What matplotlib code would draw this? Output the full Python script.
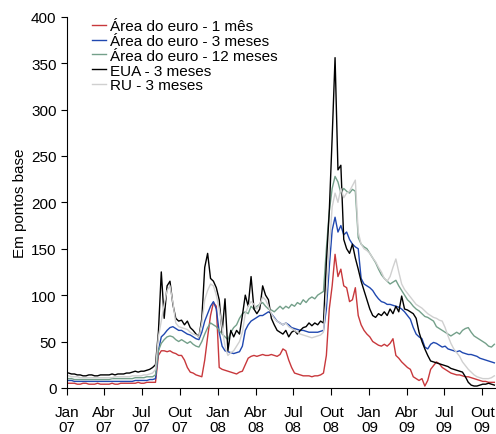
import matplotlib
matplotlib.use("Agg")
import matplotlib.pyplot as plt
import pandas as pd

plt.rcParams['font.family'] = ['Liberation Sans', 'DejaVu Sans']

# weekly observations, Jan 2007 - Oct 2009 (basis points)
weeks = pd.date_range('2007-01-05', periods=148, freq='W-FRI')

area_1m = [5, 5, 5, 4, 4, 5, 5, 4, 4, 4, 5, 4, 4, 4, 4, 5, 4, 4, 5, 5, 5,
           5, 5, 5, 6, 5, 5, 6, 6, 6,
           6, 35, 40, 40, 39, 40, 38, 37, 35, 35, 30, 22, 17, 16, 14, 13, 12, 30,
           55, 78, 92, 88,
           22, 20, 19, 18, 17, 16, 15, 17, 18, 25, 32, 34, 35, 34, 35, 36, 35,
           35, 36, 35, 34, 36, 42, 40, 30, 22, 16, 15, 14, 13, 13, 13, 12, 13, 13,
           14, 16, 35, 85, 110, 144, 120, 128, 110, 108, 93, 95, 108, 78, 68, 62, 58,
           55, 50, 48, 46, 45, 47, 45, 48, 53, 35, 32, 28, 25, 22, 20, 12, 10,
           8, 10, 2, 8, 20, 24, 28, 26, 22, 20, 18, 16, 15, 14, 14, 13, 12, 12,
           11, 10, 9, 8, 7, 7, 6, 6, 6]

area_3m = [8, 8, 7, 7, 7, 7, 7, 7, 7, 7, 7, 7, 7, 7, 7, 7, 7, 7, 7, 7, 7,
           7, 7, 8, 8, 8, 8, 8, 9, 9,
           10, 40, 55, 58, 62, 65, 66, 64, 62, 62, 60, 58, 57, 55, 53, 52, 60, 72,
           80, 88, 93, 85,
           60, 45, 40, 39, 38, 37, 38, 39, 45, 62, 68, 72, 74, 76, 78, 78, 80,
           82, 80, 76, 72, 70, 68, 70, 68, 65, 64, 63, 62, 62, 61, 60, 60, 60, 60,
           61, 62, 85, 130, 170, 184, 168, 175, 165, 168, 160, 155, 152, 150, 118, 112, 110,
           108, 105, 100, 96, 93, 92, 90, 90, 89, 88, 87, 85, 82, 78, 74, 65, 58,
           55, 53, 44, 42, 47, 49, 48, 46, 44, 45, 42, 41, 40, 39, 40, 38, 37, 36,
           36, 35, 34, 32, 31, 30, 29, 28, 27]

area_12m = [10, 10, 9, 9, 9, 9, 9, 9, 9, 9, 9, 9, 9, 9, 9, 10, 10, 10, 10, 10, 10,
            10, 10, 11, 11, 11, 11, 12, 12, 12,
            14, 40, 48, 52, 55, 56, 55, 52, 50, 52, 50, 48, 50, 47, 45, 44, 50, 58,
            65, 70, 68, 66,
            62, 58, 55, 52, 60, 65, 68, 75, 80, 82, 80, 88, 85, 88, 90, 92, 88,
            85, 84, 82, 85, 88, 85, 88, 86, 90, 88, 92, 90, 95, 92, 96, 98, 96, 100,
            102, 104, 150, 190, 215, 228, 222, 210, 215, 212, 210, 214, 212, 162, 155, 152, 150,
            145, 140, 135, 128, 122, 118, 115, 112, 114, 116, 110, 105, 100, 95, 92, 88, 85,
            83, 80, 77, 76, 74, 72, 66, 64, 62, 60, 58, 56, 58, 60, 58, 62, 64, 65,
            60, 56, 54, 52, 50, 48, 45, 44, 47]

eua_3m = [16, 15, 15, 14, 14, 13, 13, 14, 14, 13, 13, 14, 14, 14, 14, 15, 14, 15, 15, 15, 16,
          16, 17, 18, 17, 18, 18, 19, 20, 22,
          25, 60, 125, 75, 110, 115, 90, 75, 72, 73, 68, 72, 65, 62, 58, 55, 75, 130,
          145, 118, 115, 108,
          95, 60, 96, 40, 62, 55, 62, 58, 78, 100, 88, 120, 85, 80, 85, 110, 100,
          95, 75, 68, 62, 60, 58, 62, 55, 60, 62, 58, 62, 65, 66, 70, 67, 70, 68,
          72, 70, 135, 190, 270, 356, 235, 240, 160, 150, 145, 155, 140, 128, 115, 105, 95,
          85, 78, 76, 80, 78, 82, 78, 85, 80, 88, 82, 99, 85, 84, 82, 80, 75,
          60, 50, 42, 35, 29, 28, 27, 26, 25, 24, 23, 21, 20, 19, 18, 17, 12, 6,
          3, 2, 2, 3, 4, 4, 5, 4, 3]

ru_3m = [13, 12, 12, 12, 11, 11, 11, 11, 11, 11, 11, 11, 11, 11, 11, 11, 12, 12, 12, 12, 12,
         12, 13, 13, 13, 13, 14, 14, 15, 16,
         20, 55, 72, 90, 105, 110, 92, 70, 66, 65, 64, 63, 60, 58, 57, 55, 70, 95,
         105, 112, 110, 100,
         85, 65, 45, 35, 38, 40, 45, 50, 60, 80, 88, 93, 90, 85, 90, 98, 95,
         88, 80, 75, 72, 70, 68, 70, 66, 64, 62, 60, 58, 57, 56, 55, 54, 55, 56,
         57, 60, 100, 150, 195, 210, 200, 215, 205, 210, 212, 218, 224, 168, 155, 150, 148,
         145, 140, 136, 130, 125, 118, 115, 120, 130, 139, 125, 112, 106, 102, 98, 94, 90,
         88, 86, 83, 80, 78, 76, 75, 73, 72, 65, 56, 48, 42, 38, 34, 28, 24, 20,
         17, 14, 12, 11, 10, 10, 10, 11, 13]

series = [
    (area_1m, '#c8383c', 'Área do euro - 1 mês'),
    (area_3m, '#2048b0', 'Área do euro - 3 meses'),
    (area_12m, '#74a08a', 'Área do euro - 12 meses'),
    (eua_3m, '#000000', 'EUA - 3 meses'),
    (ru_3m, '#d0d0d0', 'RU - 3 meses'),
]

tick_dates = pd.to_datetime(['2007-01-01', '2007-04-01', '2007-07-01', '2007-10-01',
                             '2008-01-01', '2008-04-01', '2008-07-01', '2008-10-01',
                             '2009-01-01', '2009-04-01', '2009-07-01', '2009-10-01'])
tick_labels = ['Jan\n07', 'Abr\n07', 'Jul\n07', 'Out\n07',
               'Jan\n08', 'Abr\n08', 'Jul\n08', 'Out\n08',
               'Jan\n09', 'Abr\n09', 'Jul\n09', 'Out\n09']

fig = plt.figure(figsize=(4.96, 4.35), dpi=100)
ax = fig.add_axes([0.135, 0.106, 0.865, 0.853])

for values, color, label in series:
    ax.plot(weeks, values, color=color, lw=1, label=label)

ax.set_xlim(pd.Timestamp('2007-01-01'), pd.Timestamp('2009-11-03'))
ax.set_ylim(0, 400)
ax.set_yticks(range(0, 401, 50))
ax.set_xticks(tick_dates)
ax.set_xticklabels(tick_labels, linespacing=1.12)
ax.tick_params(direction='out', length=4, labelsize=11, colors='black')
ax.tick_params(axis='x', length=5, pad=7)
ax.spines['top'].set_visible(False)
ax.spines['right'].set_visible(False)
ax.set_ylabel('Em pontos base', fontsize=11, labelpad=3)

ax.legend(loc='upper left', bbox_to_anchor=(0.045, 1.01), frameon=False,
          handlelength=0.92, handletextpad=0.26, labelspacing=0.05, fontsize=11,
          borderaxespad=0)

fig.savefig('out.png', dpi=100)
